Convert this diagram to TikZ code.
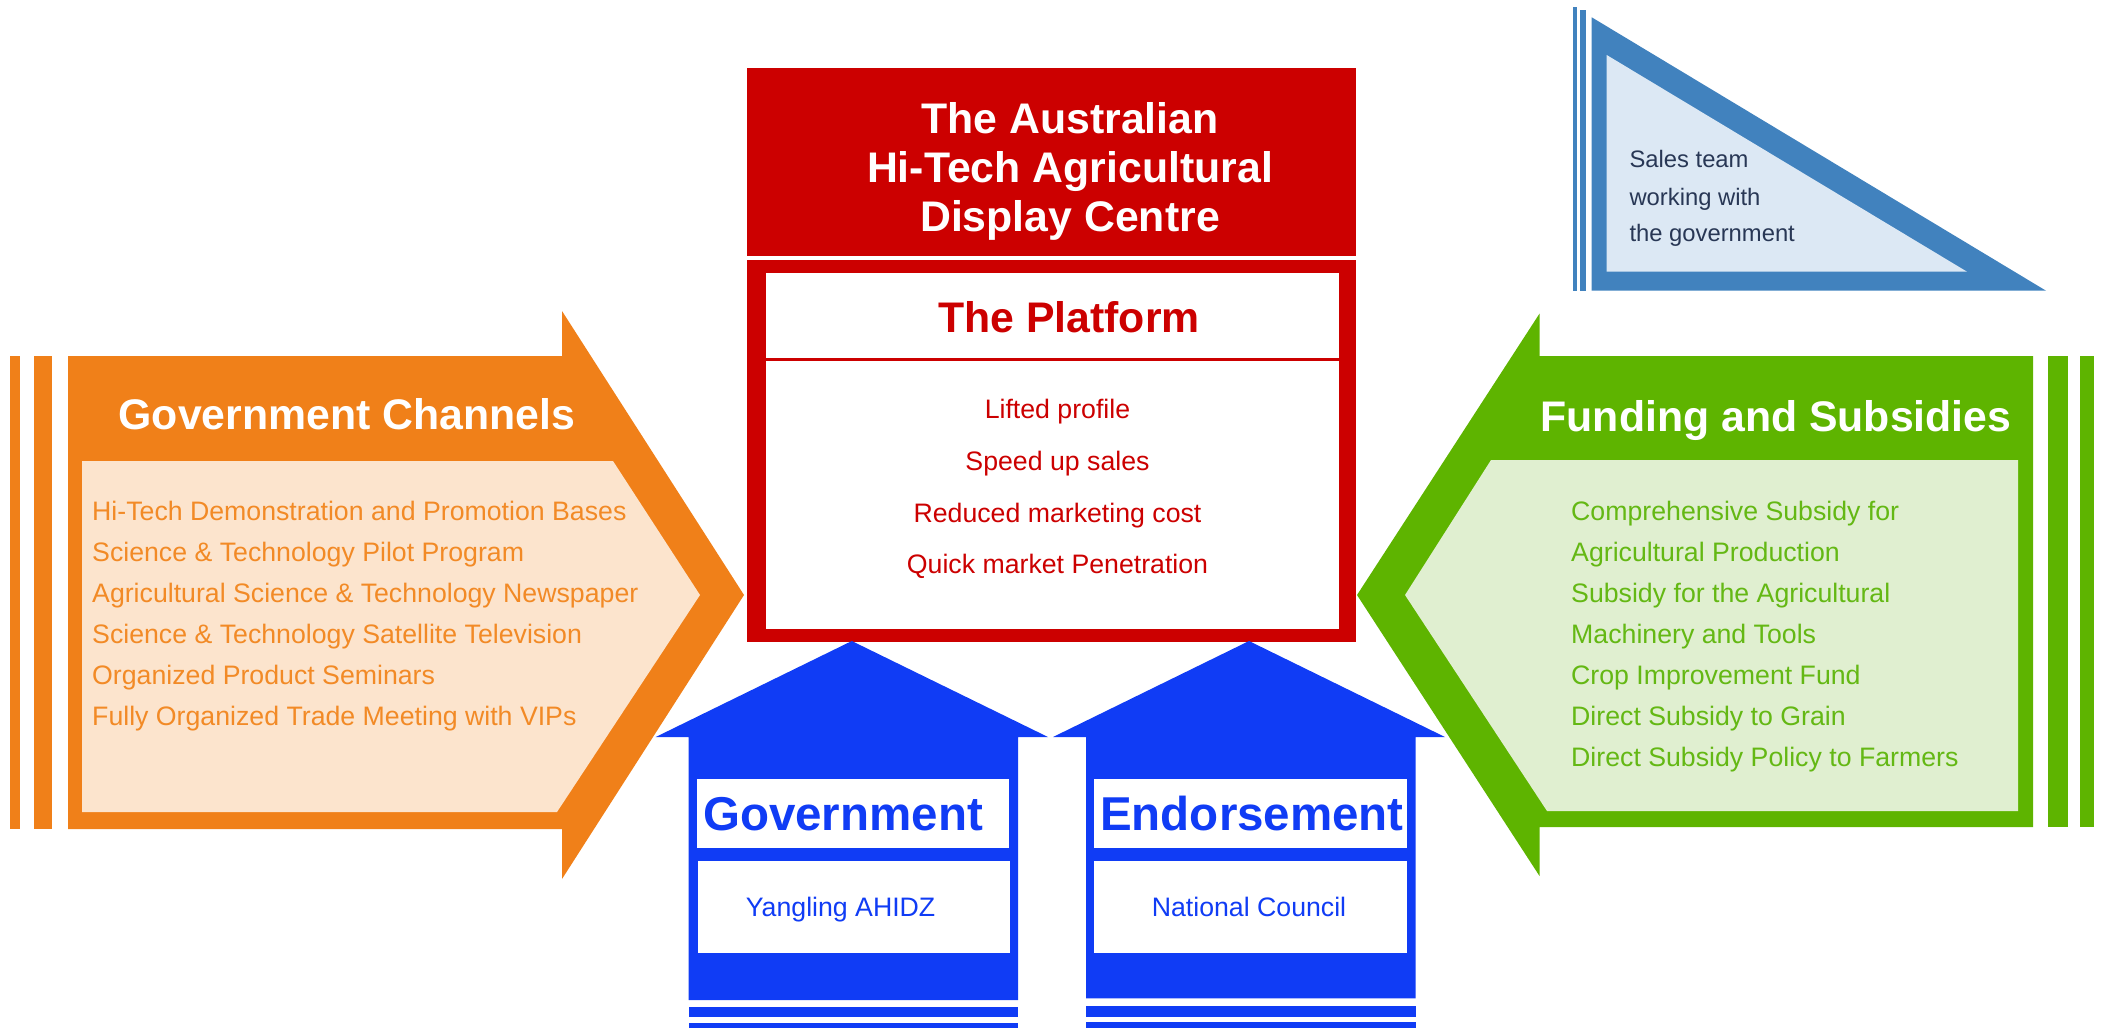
\documentclass[tikz,border=0pt]{standalone}
\usepackage{fontspec}
\setmainfont{Liberation Sans}
\definecolor{orgC}{RGB}{240,128,25}
\definecolor{orgT}{RGB}{242,138,38}
\definecolor{orgL}{RGB}{252,228,205}
\definecolor{grnC}{RGB}{94,180,0}
\definecolor{grnT}{RGB}{100,184,20}
\definecolor{grnL}{RGB}{224,239,208}
\definecolor{redC}{RGB}{204,0,0}
\definecolor{bluC}{RGB}{16,60,245}
\definecolor{triC}{RGB}{65,130,190}
\definecolor{triL}{RGB}{220,232,244}
\definecolor{navyT}{RGB}{40,55,85}
\tikzset{
  bigtitle/.style={font=\fontsize{42.8}{48}\selectfont\bfseries, inner sep=0},
  blutitle/.style={font=\fontsize{47.5}{52}\selectfont\bfseries, inner sep=0, text=bluC, anchor=base},
  item/.style={font=\fontsize{26.7}{30}\selectfont, inner sep=0, anchor=base west},
  citem/.style={font=\fontsize{26.7}{30}\selectfont, inner sep=0, anchor=base, text=redC},
  tritext/.style={font=\fontsize{23.8}{27}\selectfont, inner sep=0, anchor=base west, text=navyT},
}
\begin{document}
\begin{tikzpicture}[x=1pt,y=-1pt]
\useasboundingbox (0,0) rectangle (2103,1028);
% ---------- orange arrow ----------
\fill[orgC] (9.7,356) rectangle (20.4,829);
\fill[orgC] (34,356) rectangle (52,829);
\fill[orgC] (68,356) -- (562,356) -- (562,311) -- (744,595) -- (562,879) -- (562,829) -- (68,829) -- cycle;
\fill[orgL] (82,461) -- (613,461) -- (700,595) -- (557,812) -- (82,812) -- cycle;
\node[bigtitle, text=white, anchor=base] (gc) at (347,429) {Government Channels};
\foreach \t [count=\i from 0] in {Hi-Tech Demonstration and Promotion Bases,
  Science \& Technology Pilot Program,
  Agricultural Science \& Technology Newspaper,
  Science \& Technology Satellite Television,
  Organized Product Seminars,
  Fully Organized Trade Meeting with VIPs}
  \node[item, text=orgT] (gc\i) at (92,520+41*\i) {\t};
% ---------- green arrow ----------
\fill[grnC] (2048,356) rectangle (2067.5,827);
\fill[grnC] (2080,356) rectangle (2094,827);
\fill[grnC] (2033,356) -- (1539.5,356) -- (1539.5,313.6) -- (1357,595) -- (1539.5,876) -- (1539.5,827) -- (2033,827) -- cycle;
\fill[grnL] (2018,460) -- (1491,460) -- (1405,595) -- (1547,811) -- (2018,811) -- cycle;
\node[bigtitle, text=white, anchor=base] (fs) at (1776,431) {Funding and Subsidies};
\foreach \t [count=\i from 0] in {Comprehensive Subsidy for,
  Agricultural Production,
  Subsidy for the Agricultural,
  Machinery and Tools,
  Crop Improvement Fund,
  Direct Subsidy to Grain,
  Direct Subsidy Policy to Farmers}
  \node[item, text=grnT] (fs\i) at (1571,520+41*\i) {\t};
% ---------- red centre ----------
\fill[redC] (746.6,67.5) rectangle (1356,255.5);
\fill[redC] (746.6,260) rectangle (1356,642);
\fill[white] (765.5,272.7) rectangle (1338.6,628.5);
\draw[redC, line width=3] (765.5,359.6) -- (1338.6,359.6);
\node[bigtitle, text=white, anchor=base] (h1) at (1070,133.5) {The Australian};
\node[bigtitle, text=white, anchor=base] (h2) at (1070,182) {Hi-Tech Agricultural};
\node[bigtitle, text=white, anchor=base] (h3) at (1070,231) {Display Centre};
\node[bigtitle, text=redC, anchor=base] (pf) at (1069,332.5) {The Platform};
\node[citem] (p1) at (1057.5,418) {Lifted profile};
\node[citem] (p2) at (1057.5,470) {Speed up sales};
\node[citem] (p3) at (1057.5,522) {Reduced marketing cost};
\node[citem] (p4) at (1057.5,573.5) {Quick market Penetration};
% ---------- blue arrows ----------
\fill[bluC] (851.8,641) -- (1048,737) -- (1018,737) -- (1018,1000) -- (688.6,1000) -- (688.6,737) -- (655.7,737) -- cycle;
\fill[bluC] (688.6,1006.5) rectangle (1018,1017);
\fill[bluC] (688.6,1023) rectangle (1018,1028);
\fill[white] (696.5,779) rectangle (1009,848);
\fill[white] (697.5,860.7) rectangle (1010,953);
\node[blutitle] (gv) at (843,830) {Government};
\node[citem, text=bluC] (ya) at (840.6,916) {Yangling AHIDZ};
\fill[bluC] (1249,641) -- (1445,737) -- (1415.6,737) -- (1415.6,998.3) -- (1086,998.3) -- (1086,737) -- (1053,737) -- cycle;
\fill[bluC] (1086,1006) rectangle (1415.6,1016.5);
\fill[bluC] (1086,1022) rectangle (1415.6,1028);
\fill[white] (1094,779) rectangle (1407,848);
\fill[white] (1094,860.7) rectangle (1407,953);
\node[blutitle] (en) at (1252,830) {Endorsement};
\node[citem, text=bluC] (nc) at (1249,916) {National Council};
% ---------- triangle ----------
\fill[triC] (1573.3,6.7) rectangle (1577.3,290.7);
\fill[triC] (1580,10) rectangle (1585.7,290.7);
\fill[triC] (1591.7,17.3) -- (2046,290.7) -- (1591.7,290.7) -- cycle;
\fill[triL] (1606.7,55) -- (1967,271.7) -- (1606.7,271.7) -- cycle;
\node[tritext] (s1) at (1629.3,167) {Sales team};
\node[tritext] (s2) at (1629.3,205) {working with};
\node[tritext] (s3) at (1629.3,241.5) {the government};
\end{tikzpicture}
\end{document}
